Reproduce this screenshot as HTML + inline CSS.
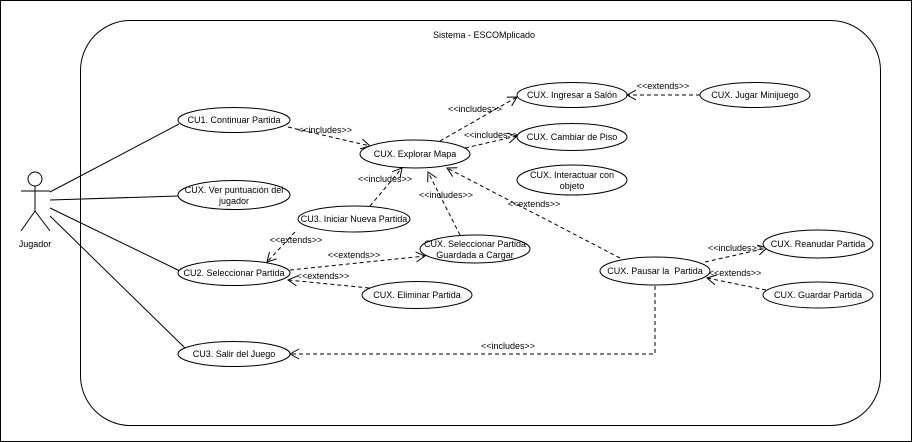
<!DOCTYPE html>
<html><head><meta charset="utf-8"><style>
body{margin:0;background:#fff}
svg{display:block}
text{font-family:"Liberation Sans",sans-serif;font-size:9px;fill:#000}
</style></head><body>
<svg width="912" height="442" viewBox="0 0 912 442" xmlns="http://www.w3.org/2000/svg">
<defs>
<marker id="a" markerWidth="12" markerHeight="12" refX="10" refY="6" orient="auto" markerUnits="userSpaceOnUse">
<path d="M1,1 L10,6 L1,11" fill="none" stroke="#000" stroke-width="1"/>
</marker>
</defs>
<rect x="0.5" y="0.5" width="911" height="441" fill="#fff" stroke="#000"/>
<rect x="80.5" y="20.5" width="800" height="405" rx="50" fill="#fff" stroke="#000"/>
<text x="484" y="38" text-anchor="middle" font-size="10">Sistema - ESCOMplicado</text>
<g stroke="#000" fill="none" stroke-width="1">
<circle cx="35" cy="179" r="7" fill="#fff"/>
<line x1="35" y1="186" x2="35" y2="211"/>
<line x1="21" y1="191" x2="50" y2="191"/>
<line x1="35" y1="211" x2="21" y2="231"/>
<line x1="35" y1="211" x2="50" y2="231"/>
<line x1="50" y1="192" x2="179" y2="124"/>
<line x1="50" y1="200" x2="178" y2="196"/>
<line x1="50" y1="208" x2="180" y2="271"/>
<line x1="50" y1="216" x2="185" y2="348"/>
</g>
<text x="35" y="247" text-anchor="middle" font-size="12">Jugador</text>
<g stroke="#000" fill="none" stroke-dasharray="4,3" marker-end="url(#a)">
<line x1="288" y1="127" x2="370" y2="146"/>
<line x1="440" y1="141" x2="517" y2="97"/>
<line x1="465" y1="148" x2="517" y2="136"/>
<line x1="700" y1="95" x2="627" y2="95"/>
<line x1="370" y1="206" x2="402" y2="168"/>
<line x1="295" y1="232" x2="267" y2="262"/>
<line x1="460" y1="235" x2="428" y2="172"/>
<line x1="290" y1="270" x2="425" y2="256"/>
<line x1="390" y1="290" x2="288" y2="280"/>
<line x1="620" y1="258" x2="447" y2="168"/>
<line x1="705" y1="262" x2="767" y2="248"/>
<line x1="766" y1="290" x2="707" y2="278"/>
<polyline points="655,286 655,354 290,354"/>
</g>
<g fill="#fff" stroke="#000">
<ellipse cx="234" cy="120" rx="56" ry="12.5"/>
<ellipse cx="234" cy="195" rx="56" ry="14.5"/>
<ellipse cx="354" cy="219" rx="56" ry="13"/>
<ellipse cx="234" cy="273" rx="56" ry="12.5"/>
<ellipse cx="417" cy="295" rx="55" ry="13.5"/>
<ellipse cx="234" cy="354" rx="56" ry="12.5"/>
<ellipse cx="415" cy="154" rx="55" ry="14"/>
<ellipse cx="475" cy="249" rx="55" ry="14"/>
<ellipse cx="572" cy="95" rx="55" ry="12.5"/>
<ellipse cx="572" cy="137" rx="55" ry="13.5"/>
<ellipse cx="572" cy="180" rx="55" ry="15"/>
<ellipse cx="755" cy="95" rx="55" ry="12.5"/>
<ellipse cx="655" cy="271" rx="55" ry="14"/>
<ellipse cx="818" cy="244" rx="55" ry="14"/>
<ellipse cx="818" cy="295" rx="55" ry="13"/>
</g>
<g text-anchor="middle">
<text x="234" y="123">CU1. Continuar Partida</text>
<text x="234" y="193">CUX. Ver puntuación del</text>
<text x="234" y="204">jugador</text>
<text x="354" y="222">CU3. Iniciar Nueva Partida</text>
<text x="234" y="276">CU2. Seleccionar Partida</text>
<text x="417" y="298">CUX. Eliminar Partida</text>
<text x="234" y="357">CU3. Salir del Juego</text>
<text x="415" y="157">CUX. Explorar Mapa</text>
<text x="475" y="247">CUX. Seleccionar Partida</text>
<text x="475" y="258">Guardada a Cargar</text>
<text x="572" y="98">CUX. Ingresar a Salón</text>
<text x="572" y="140">CUX. Cambiar de Piso</text>
<text x="572" y="178">CUX. Interactuar con</text>
<text x="572" y="189">objeto</text>
<text x="755" y="98">CUX. Jugar Minijuego</text>
<text x="655" y="274">CUX. Pausar la&#160; Partida</text>
<text x="818" y="247">CUX. Reanudar Partida</text>
<text x="818" y="298">CUX. Guardar Partida</text>
</g>
<g text-anchor="middle">
<text x="325" y="133" font-size="8">&lt;&lt;includes&gt;&gt;</text>
<text x="475" y="112" font-size="8">&lt;&lt;includes&gt;&gt;</text>
<text x="491" y="138" font-size="8">&lt;&lt;includes&gt;&gt;</text>
<text x="663" y="89" font-size="8">&lt;&lt;extends&gt;&gt;</text>
<text x="385" y="182" font-size="8">&lt;&lt;includes&gt;&gt;</text>
<text x="446" y="198" font-size="8">&lt;&lt;includes&gt;&gt;</text>
<text x="534" y="207" font-size="8">&lt;&lt;extends&gt;&gt;</text>
<text x="296" y="243" font-size="8">&lt;&lt;extends&gt;&gt;</text>
<text x="354" y="258" font-size="8">&lt;&lt;extends&gt;&gt;</text>
<text x="323" y="279" font-size="8">&lt;&lt;extends&gt;&gt;</text>
<text x="735" y="251" font-size="8">&lt;&lt;includes&gt;&gt;</text>
<text x="735" y="276" font-size="8">&lt;&lt;extends&gt;&gt;</text>
<text x="508" y="349" font-size="8">&lt;&lt;includes&gt;&gt;</text>
</g>
</svg>
</body></html>
